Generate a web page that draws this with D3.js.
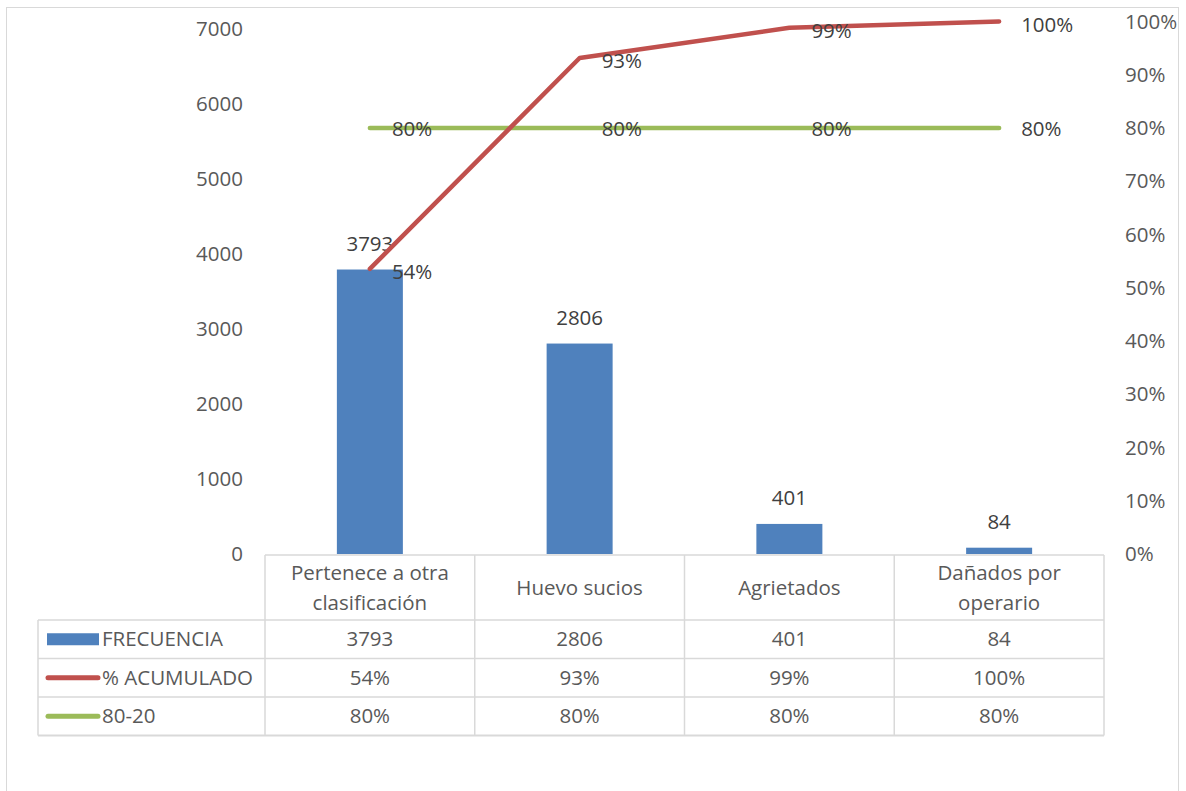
<!DOCTYPE html>
<html>
<head>
<meta charset="utf-8">
<script src="https://cdn.jsdelivr.net/npm/d3@7"></script>
<style>
  body { margin: 0; background: #fff; }
  text { font-family: "Open Sans", "Noto Sans", sans-serif; }
</style>
</head>
<body>
<div id="chart"></div>
<script>
// data
const categories = ["Pertenece a otra clasificación", "Huevo sucios", "Agrietados", "Dañados por operario"];
const headerLines = [["Pertenece a otra", "clasificación"], ["Huevo sucios"], ["Agrietados"], ["Dañados por", "operario"]];
const frecuencia = [3793, 2806, 401, 84];
const acumulado = [0.5354, 0.9315, 0.9881, 1.0];
const regla = [0.8, 0.8, 0.8, 0.8];
const leftTicks = [0, 1000, 2000, 3000, 4000, 5000, 6000, 7000];
const rightTicks = [0, 0.1, 0.2, 0.3, 0.4, 0.5, 0.6, 0.7, 0.8, 0.9, 1.0];
const seriesNames = ["FRECUENCIA", "% ACUMULADO", "80-20"];

const width = 1186, height = 791;
const colBlue = "#4f81bd", colRed = "#c0504d", colGreen = "#9bbb59";
const grid = "#d9d9d9";
const fs = 20.5;

const svg = d3.select("#chart").append("svg")
    .attr("width", width)
    .attr("height", height);

// outer chart border
svg.append("rect")
    .attr("x", 6.5).attr("y", 7.5)
    .attr("width", 1172).attr("height", 800)
    .attr("fill", "none").attr("stroke", grid);

const plot = {left: 265, right: 1104, top: 22, bottom: 554};

const x = d3.scaleBand()
    .domain(categories)
    .range([plot.left, plot.right]);

const yL = d3.scaleLinear().domain([0, 7000]).range([plot.bottom, 29]);
const yR = d3.scaleLinear().domain([0, 1]).range([plot.bottom, 21.5]);

// left axis
svg.append("g")
    .attr("transform", "translate(243,0)")
    .call(d3.axisLeft(yL).tickValues(leftTicks).tickSize(0).tickPadding(0).tickFormat(d3.format("d")))
    .call(g => g.select(".domain").remove())
    .selectAll("text")
    .attr("font-size", fs).attr("fill", "#595959")
    .attr("font-family", "'Open Sans', sans-serif");

// right axis
svg.append("g")
    .attr("transform", "translate(1125,0)")
    .call(d3.axisRight(yR).tickValues(rightTicks).tickSize(0).tickPadding(0).tickFormat(d3.format(".0%")))
    .call(g => g.select(".domain").remove())
    .selectAll("text")
    .attr("font-size", fs).attr("fill", "#595959")
    .attr("font-family", "'Open Sans', sans-serif");

// bars
const barW = 66;
svg.selectAll(".bar")
    .data(frecuencia)
    .enter().append("rect")
    .attr("class", "bar")
    .attr("x", (d, i) => x(categories[i]) + x.bandwidth() / 2 - barW / 2)
    .attr("y", d => yL(d))
    .attr("width", barW)
    .attr("height", d => yL(0) - yL(d))
    .attr("fill", colBlue);

svg.selectAll(".barlabel")
    .data(frecuencia)
    .enter().append("text")
    .attr("class", "barlabel")
    .attr("x", (d, i) => x(categories[i]) + x.bandwidth() / 2)
    .attr("y", d => yL(d) - 19)
    .attr("text-anchor", "middle")
    .attr("font-size", fs).attr("fill", "#404040")
    .text(d => d);

const cx = i => x(categories[i]) + x.bandwidth() / 2;

// 80-20 line
const line = d3.line().x((d, i) => cx(i)).y(d => yR(d));
svg.append("path")
    .datum(regla)
    .attr("d", line)
    .attr("fill", "none").attr("stroke", colGreen)
    .attr("stroke-width", 4.5).attr("stroke-linecap", "round");

// cumulative line
svg.append("path")
    .datum(acumulado)
    .attr("d", line)
    .attr("fill", "none").attr("stroke", colRed)
    .attr("stroke-width", 4.5).attr("stroke-linecap", "round").attr("stroke-linejoin", "round");

// line labels, to the right of each point
svg.selectAll(".glabel")
    .data(regla)
    .enter().append("text")
    .attr("x", (d, i) => cx(i) + 22)
    .attr("y", d => yR(d) + 8)
    .attr("font-size", fs).attr("fill", "#404040")
    .text(d => d3.format(".0%")(d));

svg.selectAll(".rlabel")
    .data(acumulado)
    .enter().append("text")
    .attr("x", (d, i) => cx(i) + 22)
    .attr("y", d => yR(d) + 10)
    .attr("font-size", fs).attr("fill", "#404040")
    .text(d => d3.format(".0%")(d));

// data table
const tbl = {left: 38, top: 555, header: 620, rowH: 38.5};
const tg = svg.append("g");
const rows = [frecuencia.map(d => d), acumulado.map(d => d3.format(".0%")(d)), regla.map(d => d3.format(".0%")(d))];
const tableBottom = tbl.header + rows.length * tbl.rowH;

// header cells
tg.append("line").attr("x1", plot.left).attr("x2", plot.right).attr("y1", tbl.top).attr("y2", tbl.top).attr("stroke", grid).attr("stroke-width", 1.5);
categories.forEach((c, i) => {
    const x0 = x(c);
    tg.append("line").attr("x1", x0).attr("x2", x0).attr("y1", tbl.top).attr("y2", tableBottom).attr("stroke", grid).attr("stroke-width", 1.5);
    const lines = headerLines[i];
    const mid = (tbl.top + tbl.header) / 2;
    lines.forEach((t, k) => {
        tg.append("text")
            .attr("x", x0 + x.bandwidth() / 2)
            .attr("y", mid + 7 + (k - (lines.length - 1) / 2) * 30)
            .attr("text-anchor", "middle")
            .attr("font-size", fs).attr("fill", "#595959")
            .text(t);
    });
});
tg.append("line").attr("x1", plot.right).attr("x2", plot.right).attr("y1", tbl.top).attr("y2", tableBottom).attr("stroke", grid).attr("stroke-width", 1.5);
tg.append("line").attr("x1", tbl.left).attr("x2", tbl.left).attr("y1", tbl.header).attr("y2", tableBottom).attr("stroke", grid).attr("stroke-width", 1.5);

rows.forEach((r, j) => {
    const y0 = tbl.header + j * tbl.rowH;
    tg.append("line").attr("x1", tbl.left).attr("x2", plot.right).attr("y1", y0).attr("y2", y0).attr("stroke", grid).attr("stroke-width", 1.5);
    const mid = y0 + tbl.rowH / 2;
    // legend key
    if (j === 0) {
        tg.append("rect").attr("x", 47).attr("y", mid - 6).attr("width", 52).attr("height", 12).attr("fill", colBlue);
    } else {
        tg.append("line").attr("x1", 48).attr("x2", 98).attr("y1", mid).attr("y2", mid)
            .attr("stroke", j === 1 ? colRed : colGreen).attr("stroke-width", 5).attr("stroke-linecap", "round");
    }
    tg.append("text").attr("x", 102).attr("y", mid + 7)
        .attr("font-size", fs).attr("fill", "#595959").text(seriesNames[j]);
    r.forEach((v, i) => {
        tg.append("text")
            .attr("x", x(categories[i]) + x.bandwidth() / 2)
            .attr("y", mid + 7)
            .attr("text-anchor", "middle")
            .attr("font-size", fs).attr("fill", "#595959")
            .text(v);
    });
});
tg.append("line").attr("x1", tbl.left).attr("x2", plot.right).attr("y1", tableBottom).attr("y2", tableBottom).attr("stroke", grid).attr("stroke-width", 2);
</script>
</body>
</html>
